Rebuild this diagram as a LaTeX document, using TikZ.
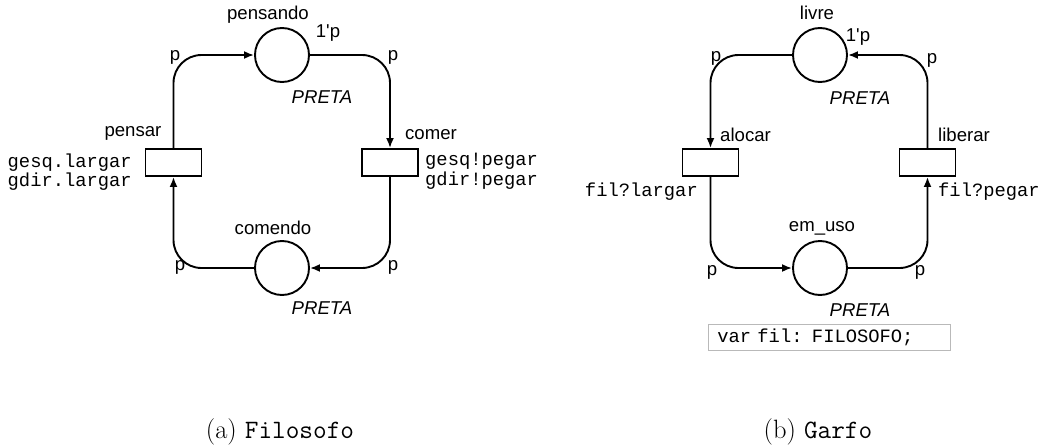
\documentclass[tikz,border=0pt]{standalone}
\usepackage{fontspec}
\newfontfamily\lab{Liberation Sans}
\newfontfamily\labmono{Liberation Mono}
\usetikzlibrary{arrows.meta}
\tikzset{
  place/.style={circle, draw, line width=1.9pt, minimum size=54pt, inner sep=0pt},
  trans/.style={rectangle, draw, line width=1.9pt, minimum width=56pt, minimum height=27pt, inner sep=0pt},
  arc/.style={draw, line width=1.9pt, rounded corners=28pt, -{Latex[length=10pt,width=8pt]}},
  lbl/.style={font=\lab\fontsize{18.6}{21}\selectfont, inner sep=0pt},
  ilbl/.style={font=\lab\itshape\fontsize{18.6}{21}\selectfont, inner sep=0pt},
  mono/.style={font=\labmono\fontsize{18.8}{19.5}\selectfont, inner sep=0pt},
  captext/.style={font=\fontsize{26.5}{30}\selectfont, inner sep=0pt},
  decl/.style={draw=gray!55, line width=0.7pt, font=\labmono\fontsize{18.8}{20}\selectfont,
    minimum width=242pt, minimum height=26pt, text width=224pt, inner xsep=9pt, inner ysep=0pt, align=left}
}
\begin{document}
\begin{tikzpicture}[x=1pt,y=-1pt]
\useasboundingbox (0,0) rectangle (1042,447);
% ---------- (a) Filosofo ----------
\node[place] (pensando) at (282,55) {};
\node[place] (comendo) at (282,268) {};
\node[trans] (pensar) at (173.5,162.5) {};
\node[trans] (comer) at (390,162.5) {};
\draw[arc] (pensar.north) |- (pensando.west);
\draw[arc] (pensando.east) -| (comer.north);
\draw[arc] (comer.south) |- (comendo.east);
\draw[arc] (comendo.west) -| (pensar.south);
\node[lbl] (lpensando) at (268,15) {pensando};
\node[lbl] (lini1) at (328,33) {1'p};
\node[lbl] (pa1) at (175,57) {p};
\node[lbl] (pa2) at (393,57) {p};
\node[ilbl] (preta1) at (322,97) {PRETA};
\node[lbl] (lpensar) at (133,133) {pensar};
\node[lbl] (lcomer) at (431,135) {comer};
\node[mono, anchor=east, align=right] (gpensar) at (132,172) {gesq.largar\\gdir.largar};
\node[mono, anchor=west, align=left] (gcomer) at (425,171.5) {gesq!pegar\\gdir!pegar};
\node[lbl] (lcomendo) at (273,228) {comendo};
\node[lbl] (pa3) at (180,267) {p};
\node[lbl] (pa4) at (393,267) {p};
\node[ilbl] (preta2) at (322,308) {PRETA};
\node[captext] (capa) at (280,432) {(a) \texttt{Filosofo}};
% ---------- (b) Garfo ----------
\node[place] (livre) at (820,55) {};
\node[place] (emuso) at (820,268) {};
\node[trans] (alocar) at (710.5,162.5) {};
\node[trans] (liberar) at (927.5,162.5) {};
\draw[arc] (livre.west) -| (alocar.north);
\draw[arc] (alocar.south) |- (emuso.west);
\draw[arc] (emuso.east) -| (liberar.south);
\draw[arc] (liberar.north) |- (livre.east);
\node[lbl] (llivre) at (817,13) {livre};
\node[lbl] (lini2) at (858,37) {1'p};
\node[lbl] (pb1) at (716,58) {p};
\node[lbl] (pb2) at (932,60) {p};
\node[ilbl] (preta3) at (860,98) {PRETA};
\node[lbl, anchor=west] (lalocar) at (720,135) {alocar};
\node[lbl, anchor=west] (lliberar) at (938,135) {liberar};
\node[mono, anchor=east] (galocar) at (698,192) {fil?largar};
\node[mono, anchor=west] (gliberar) at (938,192) {fil?pegar};
\node[lbl] (lemuso) at (822,228) {em\_uso};
\node[lbl] (pb3) at (712,272) {p};
\node[lbl] (pb4) at (920,272) {p};
\node[ilbl] (preta4) at (860,310) {PRETA};
\node[decl, anchor=north west] (decl) at (708,324) {var fil: FILOSOFO;};
\node[captext] (capb) at (818,432) {(b) \texttt{Garfo}};
\end{tikzpicture}
\end{document}
